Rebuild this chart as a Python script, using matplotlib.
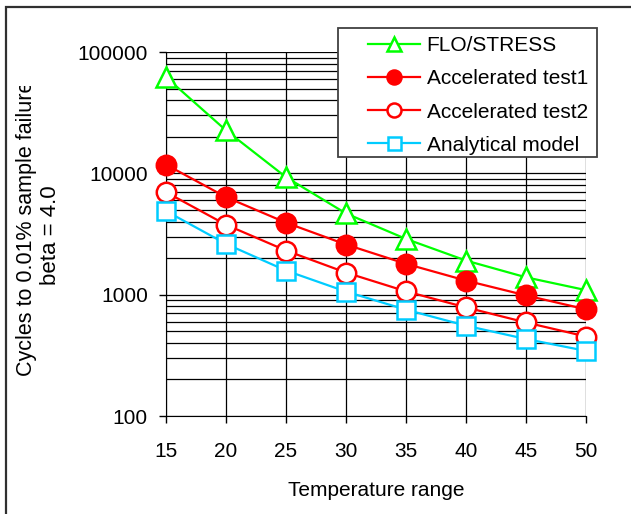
import numpy as np
import matplotlib
matplotlib.use('Agg')
import matplotlib.pyplot as plt
from matplotlib.patches import Rectangle
from matplotlib.transforms import Bbox, TransformedBbox
from matplotlib.ticker import LogLocator, NullFormatter, FixedLocator

plt.rcParams['font.family'] = ['Liberation Sans', 'DejaVu Sans']

## data #######################################################################
temp_range = [15, 20, 25, 30, 35, 40, 45, 50]
flo_stress = [62000, 22600, 9300, 4670, 2880, 1910, 1390, 1090]
acc_test1  = [11800, 6370, 3920, 2590, 1795, 1306, 986, 757]
acc_test2  = [7000, 3770, 2310, 1520, 1065, 785, 590, 452]
analytical = [4890, 2620, 1580, 1060, 752, 555, 431, 344]
y_ticks    = [100, 1000, 10000, 100000]

## figure #####################################################################
W, H = 631, 514
FS = 15
fig = plt.figure(figsize=(W/100, H/100), dpi=100, facecolor='white')
ax = fig.add_axes([166/W, 1-416/H, (586-166)/W, (416-52)/H])

# outer frame of the chart area (only left and top edges fall inside the image)
fig.patches.append(Rectangle((6/W, -0.1), 1.2, 1-7/H+0.1, transform=fig.transFigure,
                             fill=False, edgecolor='#303030', lw=1.6))

ax.plot(temp_range, flo_stress, color='#00ff00', lw=1.6, marker='^', ms=14,
        mfc='white', mec='#00ff00', mew=1.8, label='FLO/STRESS', zorder=5,
        clip_on=False)
ax.plot(temp_range, acc_test1, color='#ff0000', lw=1.6, marker='o', ms=14,
        mfc='#ff0000', mec='#ff0000', mew=1.8, label='Accelerated test1', zorder=5,
        clip_on=False)
ax.plot(temp_range, acc_test2, color='#ff0000', lw=1.6, marker='o', ms=14,
        mfc='white', mec='#ff0000', mew=1.8, label='Accelerated test2', zorder=5,
        clip_on=False)
ax.plot(temp_range, analytical, color='#00ccff', lw=1.6, marker='s', ms=13,
        mfc='white', mec='#00ccff', mew=1.8, label='Analytical model', zorder=5,
        clip_on=False)

ax.set_yscale('log')
ax.set_ylim(100, 100000)
ax.set_xlim(15, 50)
ax.xaxis.set_major_locator(FixedLocator(temp_range))
ax.yaxis.set_major_locator(FixedLocator(y_ticks))
ax.set_yticklabels([str(v) for v in y_ticks])
ax.yaxis.set_minor_locator(LogLocator(base=10, subs=np.arange(2, 10)))
ax.yaxis.set_minor_formatter(NullFormatter())

ax.grid(True, which='major', axis='both', color='black', lw=0.9)
ax.grid(True, which='minor', axis='y', color='black', lw=0.9)
ax.set_axisbelow(True)

for s in ['top', 'right']:
    ax.spines[s].set_visible(False)
ax.tick_params(axis='both', which='major', direction='out', length=5, width=1,
               labelsize=FS, colors='black', pad=8)
ax.tick_params(axis='y', which='minor', length=0)
ax.tick_params(axis='x', pad=14)

ax.set_xlabel('Temperature range', fontsize=FS, labelpad=14)

# two-line y label, first line clipped at the top like the original
ylab1 = fig.text(27/W, 1-228/H, 'Cycles to 0.01% sample failure', rotation=90,
                 ha='center', va='center', fontsize=15.5)
ylab1.set_clip_box(TransformedBbox(Bbox([[0, 0], [1, 1-86/H]]), fig.transFigure))
ylab1.set_clip_on(True)
fig.text(51/W, 1-235/H, 'beta = 4.0', rotation=90, ha='center', va='center',
         fontsize=16)

# legend box drawn by hand to get the wide left padding of the original
legbox = Rectangle((338/W, 1-157/H), (597-338)/W, (157-28)/H,
                   transform=fig.transFigure, facecolor='white',
                   edgecolor='#404040', lw=1.3, zorder=5)
fig.patches.append(legbox)
leg = fig.legend(loc='upper left', bbox_to_anchor=(362/W, 1-30/H),
                 fontsize=FS, frameon=False, handlelength=2.5,
                 handletextpad=0.3, labelspacing=0.68, borderpad=0.3,
                 borderaxespad=0, markerscale=0.72)
leg.set_zorder(10)

plt.savefig('out.png', dpi=100)
